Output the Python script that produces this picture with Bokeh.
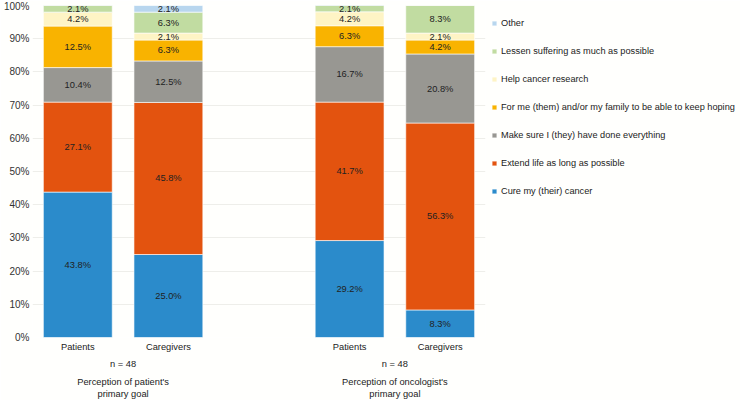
import numpy as np
from bokeh.plotting import figure
from bokeh.models import (ColumnDataSource, Range1d, FixedTicker, LinearAxis,
                          Legend, LegendItem)
from bokeh.core.properties import value
from bokeh.embed import file_html
from bokeh.resources import INLINE

# ---- data ----
bar_pos = [0, 1, 3, 4]
bar_names = ["Patients", "Caregivers", "Patients", "Caregivers"]
group_pos = [0.5, 3.5]
group_n = ["n = 48", "n = 48"]
group_titles = ["Perception of patient's\nprimary goal",
                "Perception of oncologist's\nprimary goal"]

goals = ["Cure my (their) cancer",
         "Extend life as long as possible",
         "Make sure I (they) have done everything",
         "For me (them) and/or my family to be able to keep hoping",
         "Help cancer research",
         "Lessen suffering as much as possible",
         "Other"]
cure = [43.8, 25.0, 29.2, 8.3]
extend = [27.1, 45.8, 41.7, 56.3]
make_sure = [10.4, 12.5, 16.7, 20.8]
hoping = [12.5, 6.3, 6.3, 4.2]
research = [4.2, 2.1, 4.2, 2.1]
suffering = [2.1, 6.3, 2.1, 8.3]
other = [0.0, 2.1, 0.0, 0.0]
colors = ["#2B8BCB", "#E3530F", "#989792", "#F9B300",
          "#FEF4C5", "#C1DCA1", "#B8D6EE"]
y_ticks = list(range(0, 101, 10))

series = [cure, extend, make_sure, hoping, research, suffering, other]
keys = ["s%d" % i for i in range(len(series))]

FONT = "Liberation Sans"

data = {"x": bar_pos}
for k, s in zip(keys, series):
    data[k] = s
source = ColumnDataSource(data)

p = figure(output_backend="svg", toolbar_location=None,
           frame_width=453, frame_height=332,
           x_range=Range1d(-0.5, 4.5), y_range=Range1d(0, 100),
           min_border_left=30, min_border_top=5, min_border_bottom=0,
           min_border_right=252)
p.background_fill_color = "#FFFFFD"
p.border_fill_color = "#FFFFFD"
p.outline_line_color = None

renderers = p.vbar_stack(keys, x="x", width=0.76, source=source,
                         color=colors, line_color="#FFFFFF", line_width=0.6)

# segment labels
arr = np.array(series)
tops = np.cumsum(arr, axis=0)
bottoms = tops - arr
lx, ly, lt = [], [], []
for i in range(arr.shape[0]):
    for j in range(arr.shape[1]):
        if arr[i, j] > 0:
            lx.append(bar_pos[j])
            ly.append(min((tops[i, j] + bottoms[i, j]) / 2, 99.0))
            lt.append("%.1f%%" % arr[i, j])
p.text(x=lx, y=ly, text=lt, text_align="center", text_baseline="middle",
       text_font=value(FONT), text_font_size="9.3px", text_color="#222222")

# y axis
p.yaxis.ticker = FixedTicker(ticks=y_ticks)
p.yaxis.major_label_overrides = {t: "%d%%" % t for t in y_ticks}
p.yaxis.axis_line_color = None
p.yaxis.major_tick_line_color = None
p.yaxis.minor_tick_line_color = None
p.yaxis.major_tick_out = 0
p.yaxis.major_tick_in = 0
p.yaxis.major_label_standoff = 3
p.yaxis.major_label_text_font = FONT
p.yaxis.major_label_text_font_size = "10px"
p.yaxis.major_label_text_color = "#333333"
p.ygrid.grid_line_color = "#EEEEEA"
p.ygrid.ticker = FixedTicker(ticks=y_ticks)
p.xgrid.grid_line_color = None


def style_x(ax, standoff):
    ax.axis_line_color = None
    ax.major_tick_line_color = None
    ax.minor_tick_line_color = None
    ax.major_tick_out = 0
    ax.major_tick_in = 0
    ax.major_label_standoff = standoff
    ax.major_label_text_font = FONT
    ax.major_label_text_font_size = "9.3px"
    ax.major_label_text_color = "#222222"


p.xaxis.ticker = FixedTicker(ticks=bar_pos)
p.xaxis.major_label_overrides = {x: n for x, n in zip(bar_pos, bar_names)}
style_x(p.xaxis[0], 4)

ax2 = LinearAxis(ticker=FixedTicker(ticks=group_pos),
                 major_label_overrides={x: n for x, n in zip(group_pos, group_n)})
style_x(ax2, 4)
p.add_layout(ax2, "below")

ax3 = LinearAxis(ticker=FixedTicker(ticks=group_pos),
                 major_label_overrides={x: n for x, n in zip(group_pos, group_titles)})
style_x(ax3, 5)
p.add_layout(ax3, "below")

# legend (reverse order: Other on top)
items = [LegendItem(label=g, renderers=[r]) for g, r in zip(goals, renderers)][::-1]
legend = Legend(items=items, location=(6, 136),
                glyph_width=6, glyph_height=6, label_height=21, label_width=20,
                spacing=7, padding=0, margin=0, label_standoff=4,
                label_text_font=FONT, label_text_font_size="9.2px",
                label_text_color="#222222",
                border_line_color=None, background_fill_alpha=0)
legend.label_text_baseline = "middle"
p.add_layout(legend, "right")

open("out.html", "w").write(file_html(p, INLINE))
